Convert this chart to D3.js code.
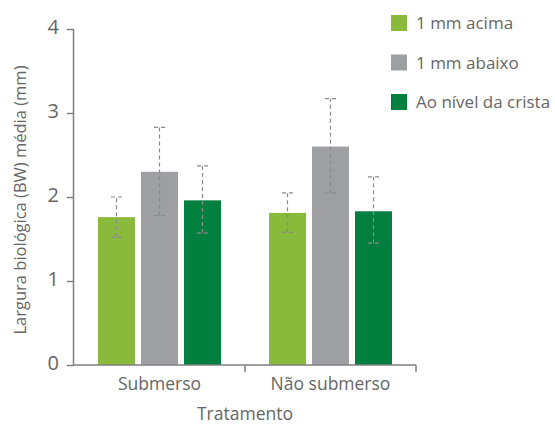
<!DOCTYPE html>
<html>
<head>
<meta charset="utf-8">
<script src="https://cdn.jsdelivr.net/npm/d3@7"></script>
<style>
  body { margin: 0; background: #fff; }
  svg text { font-family: "Open Sans", sans-serif; fill: #666; }
</style>
</head>
<body>
<svg id="chart" width="555" height="425"></svg>
<script>
const groups = ["Submerso", "Não submerso"]
const series = ["1 mm acima", "1 mm abaixo", "Ao nível da crista"]
const colors = ["#8aba3c", "#9d9fa2", "#007f3e"]
const means = [[1.76, 2.30, 1.96], [1.81, 2.60, 1.83]]
const errLow = [[1.52, 1.78, 1.57], [1.58, 2.05, 1.45]]
const errHigh = [[2.00, 2.83, 2.37], [2.05, 3.17, 2.24]]
const yTicks = [0, 1, 2, 3, 4]

const svg = d3.select("#chart")
const m = {t: 29, l: 74, r: 139, b: 60}
const w = 555 - m.l - m.r
const h = 425 - m.t - m.b

const g = svg.append("g").attr("transform", `translate(${m.l},${m.t})`)

const x0 = d3.scaleBand().domain(groups).range([0, w])
const x1 = d3.scaleBand().domain(series).range([24, x0.bandwidth() - 24]).paddingInner(0.14)
const y = d3.scaleLinear().domain([0, 4]).range([h, 0])

// bars
const grp = g.selectAll(".grp")
  .data(groups)
  .join("g")
  .attr("transform", d => `translate(${x0(d)},0)`)

grp.each(function(gname, gi) {
  const sel = d3.select(this)
  series.forEach((s, si) => {
    const bx = x1(s), bw = x1.bandwidth(), cx = bx + bw / 2
    sel.append("rect")
      .attr("x", bx).attr("width", bw)
      .attr("y", y(means[gi][si]))
      .attr("height", h - y(means[gi][si]))
      .attr("fill", colors[si])
    const lo = y(errLow[gi][si]), hi = y(errHigh[gi][si])
    sel.append("line")
      .attr("x1", cx).attr("x2", cx).attr("y1", lo).attr("y2", hi)
      .attr("stroke", "#8a8a8a").attr("stroke-width", 1.2)
      .attr("stroke-dasharray", "4,3")
    ;[lo, hi].forEach(yy => {
      sel.append("line")
        .attr("x1", cx - 5.5).attr("x2", cx + 5.5).attr("y1", yy).attr("y2", yy)
        .attr("stroke", "#8a8a8a").attr("stroke-width", 1.2)
        .attr("stroke-dasharray", "4,3")
    })
  })
})

// y axis
const yAxis = g.append("g")
  .call(d3.axisLeft(y).tickValues(yTicks).tickSize(7).tickPadding(8).tickFormat(d3.format("d")))
yAxis.select(".domain").attr("stroke", "#808080").attr("stroke-width", 1.5).attr("d", `M-0.5,0V${h}`)
yAxis.selectAll(".tick line").attr("stroke", "#808080").attr("stroke-width", 1.5)
yAxis.selectAll(".tick text").style("font-size", "20px").attr("fill", "#666").attr("dy", "0.2em")

// x axis
const xAxis = g.append("g").attr("transform", `translate(0,${h})`)
xAxis.append("line").attr("x1", 0).attr("x2", w).attr("y1", 0).attr("y2", 0)
  .attr("stroke", "#808080").attr("stroke-width", 1.5)
;[x0.bandwidth(), w].forEach(xx => {
  xAxis.append("line").attr("x1", xx).attr("x2", xx).attr("y1", 0).attr("y2", 7)
    .attr("stroke", "#808080").attr("stroke-width", 1.5)
})
xAxis.selectAll(".lbl")
  .data(groups)
  .join("text")
  .attr("x", d => x0(d) + x0.bandwidth() / 2)
  .attr("y", 25)
  .attr("text-anchor", "middle")
  .style("font-size", "17.5px")
  .text(d => d)

g.append("text")
  .attr("x", w / 2).attr("y", h + 55)
  .attr("text-anchor", "middle")
  .style("font-size", "17.5px")
  .text("Tratamento")

g.append("text")
  .attr("transform", `translate(-48,${h / 2 + 3}) rotate(-90)`)
  .attr("text-anchor", "middle")
  .style("font-size", "16.5px")
  .text("Largura biológica (BW) média (mm)")

// legend
const leg = svg.append("g").attr("transform", "translate(391,15)")
series.forEach((s, i) => {
  const row = leg.append("g").attr("transform", `translate(0,${i * 39.5})`)
  row.append("rect").attr("width", 16).attr("height", 16).attr("fill", colors[i])
  row.append("text").attr("x", 25).attr("y", 14).style("font-size", "17px").text(s)
})
</script>
</body>
</html>
